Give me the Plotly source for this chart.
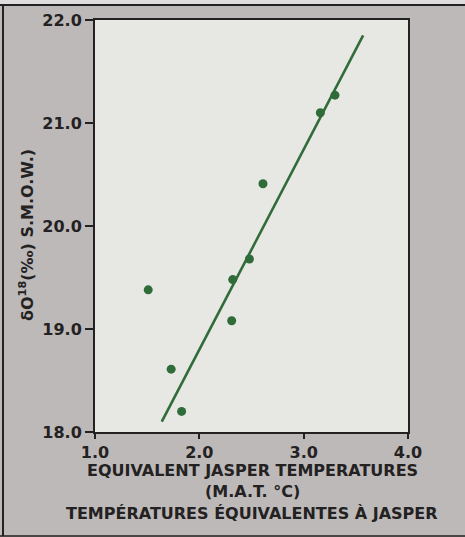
import plotly.graph_objects as go

# Data
x_temp = [1.51, 1.73, 1.83, 2.31, 2.32, 2.48, 2.61, 3.16, 3.30]
y_delta = [19.38, 18.61, 18.20, 19.08, 19.48, 19.68, 20.41, 21.10, 21.27]
fit_x = [1.64, 3.57]
fit_y = [18.10, 21.85]
x_ticks = [1.0, 2.0, 3.0, 4.0]
y_ticks = [18.0, 19.0, 20.0, 21.0, 22.0]
x_title_lines = ["EQUIVALENT JASPER TEMPERATURES", "(M.A.T. °C)",
                 "TEMPÉRATURES ÉQUIVALENTES À JASPER"]
y_title = "δO<sup>18</sup>(‰) S.M.O.W.)"

W, H = 465, 537
L, R, T, B = 95, 57, 20, 105
PW, PH = W - L - R, H - T - B

def px(x):
    return (x - L) / PW

def py(y):
    return (H - B - y) / PH

GREEN = "rgb(48,108,58)"
INK = "rgb(35,33,33)"
GRAY = "rgb(189,185,184)"
PLOTBG = "rgb(231,231,227)"
FONT = "DejaVu Sans"

fig = go.Figure()
fig.add_trace(go.Scatter(x=fit_x, y=fit_y, mode="lines",
                         line=dict(color=GREEN, width=2.6), hoverinfo="skip"))
fig.add_trace(go.Scatter(x=x_temp, y=y_delta, mode="markers",
                         marker=dict(color=GREEN, size=9)))

axis_common = dict(showline=True, linecolor=INK, linewidth=2, mirror=True,
                   ticks="outside", tickcolor=INK, tickwidth=1.5,
                   showgrid=False, zeroline=False,
                   tickfont=dict(family=FONT, size=16, color=INK, weight="bold"))

fig.update_xaxes(range=[1.0, 4.0], tickvals=x_ticks,
                 ticktext=[f"{v:.1f}" for v in x_ticks], ticklen=5, **axis_common)
fig.update_yaxes(range=[18.0, 22.0], tickvals=y_ticks,
                 ticktext=[f"{v:.1f}" for v in y_ticks], ticklen=8, **axis_common)

annotations = []
line_y = [470, 491, 513]
for txt, yy in zip(x_title_lines, line_y):
    annotations.append(dict(text=txt, xref="paper", yref="paper",
                            x=px(252), y=py(yy), xanchor="center", yanchor="middle",
                            showarrow=False,
                            font=dict(family=FONT, size=16, color=INK, weight="bold")))
annotations.append(dict(text=y_title, xref="paper", yref="paper",
                        x=px(26), y=py(235), xanchor="center", yanchor="middle",
                        textangle=-90, showarrow=False,
                        font=dict(family=FONT, size=16, color=INK, weight="bold")))

shapes = [
    # light strip above the frame
    dict(type="rect", xref="paper", yref="paper", x0=px(0), x1=px(W), y0=py(5), y1=py(0),
         fillcolor="rgb(222,220,220)", line=dict(width=0), layer="below"),
    # outer frame lines
    dict(type="line", xref="paper", yref="paper", x0=px(0), x1=px(W), y0=py(5), y1=py(5),
         line=dict(color=INK, width=2)),
    dict(type="line", xref="paper", yref="paper", x0=px(3), x1=px(3), y0=py(5), y1=py(536),
         line=dict(color=INK, width=2)),
    dict(type="line", xref="paper", yref="paper", x0=px(0), x1=px(W), y0=py(536), y1=py(536),
         line=dict(color=INK, width=1.5)),
]

fig.update_layout(width=W, height=H, margin=dict(l=L, r=R, t=T, b=B),
                  paper_bgcolor=GRAY, plot_bgcolor=PLOTBG, showlegend=False,
                  annotations=annotations, shapes=shapes)

fig.write_html("out.html")
